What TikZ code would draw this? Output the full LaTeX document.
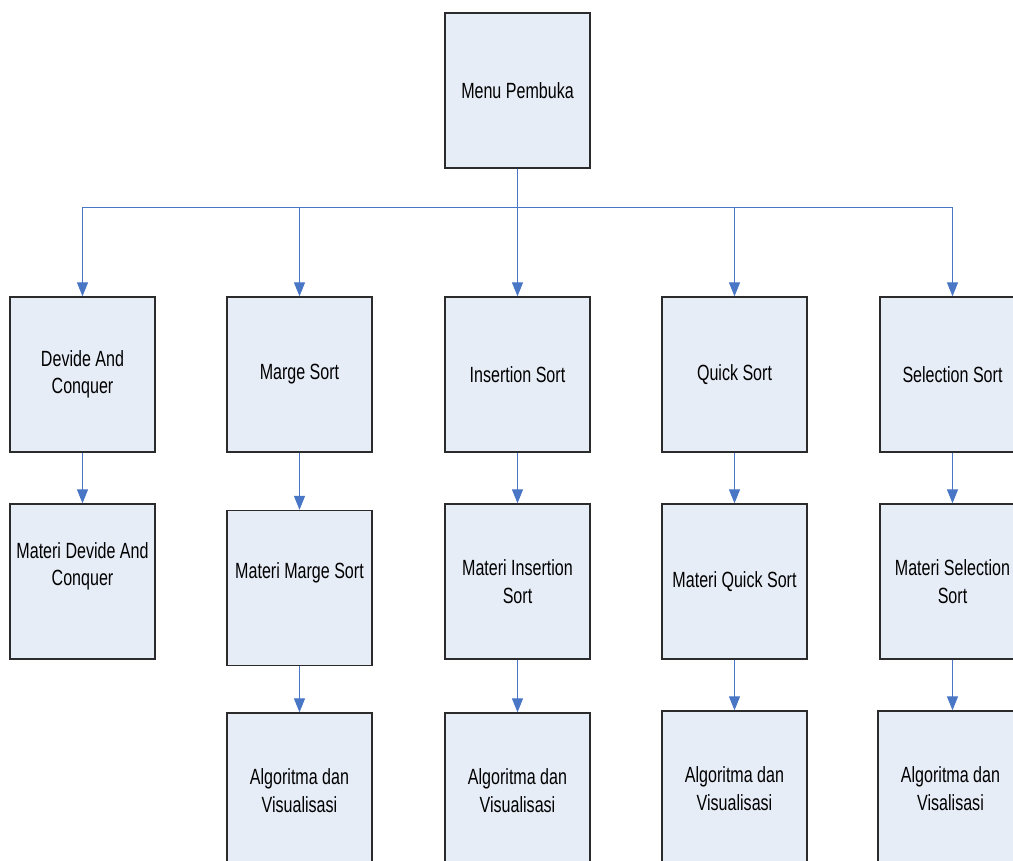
\documentclass[tikz,border=0pt]{standalone}
\usepackage{fontspec}
\setmainfont[FakeStretch=0.73]{Liberation Sans}
\usetikzlibrary{arrows.meta}
\definecolor{boxfill}{HTML}{E7EDF7}
\definecolor{boxline}{HTML}{2B2B2B}
\definecolor{linkblue}{HTML}{4A76C6}
\tikzset{
  box/.style={draw=boxline, line width=1.3pt, fill=boxfill,
    minimum width=145pt, minimum height=155pt, inner sep=2pt,
    align=center, font=\fontsize{22}{27.5}\selectfont},
  txt/.style={align=center, font=\fontsize{22}{27.5}\selectfont},
  link/.style={draw=linkblue, line width=1.1pt,
    -{Triangle[width=11pt,length=14pt]}},
  trunk/.style={draw=linkblue, line width=1.8pt}
}
\begin{document}
\begin{tikzpicture}[x=1pt,y=-1pt]
\useasboundingbox (0,0) rectangle (1013,861);
\begin{scope}
\clip (0,0) rectangle (1013,861);

% root
\node[box] (menu) at (517.5,90.5) {Menu Pembuka};

% first level
\node[box] (dac) at (82.5,374.5)  {Devide And\\Conquer};
\node[box] (ms)  at (299.5,374.5) {Marge Sort};
\node[box] (is)  at (517.5,374.5) {Insertion Sort};
\node[box] (qs)  at (734.5,374.5) {Quick Sort};
\node[box] (ss)  at (952.5,374.5) {Selection Sort};

% material pages
\node[box, label={[txt,yshift=15pt]center:Materi Devide And\\Conquer}] (mdac) at (82.5,581.5) {};
\node[box, label={[txt,yshift=15pt]center:Materi Marge Sort}] (mms) at (299.5,588) {};
\node[box] (mis) at (517.5,581.5) {Materi Insertion\\Sort};
\node[box] (mqs) at (734.5,581.5) {Materi Quick Sort};
\node[box] (mss) at (952.5,581.5) {Materi Selection\\Sort};

% algorithm and visualisation pages
\node[box] (vms) at (299.5,790.5) {Algoritma dan\\Visualisasi};
\node[box] (vis) at (517.5,790.5) {Algoritma dan\\Visualisasi};
\node[box] (vqs) at (734.5,788.5) {Algoritma dan\\Visualisasi};
\node[box] (vss) at (950.5,788.5) {Algoritma dan\\Visalisasi};

% root to first level
\draw[trunk] (menu.south) -- ++(0,39);
\foreach \n in {dac,ms,is,qs,ss}
  \draw[link] (menu.south) -- ++(0,39) -| (\n.north);

% first level to material
\draw[link] (dac) -- (mdac);
\draw[link] (ms) -- (mms);
\draw[link] (is) -- (mis);
\draw[link] (qs) -- (mqs);
\draw[link] (ss) -- (mss);

% material to visualisation
\draw[link] (mms) -- (vms);
\draw[link] (mis) -- (vis);
\draw[link] (mqs) -- (vqs);
\draw[link] (mss.south) -- (mss.south |- vss.north);
\end{scope}
\end{tikzpicture}
\end{document}
